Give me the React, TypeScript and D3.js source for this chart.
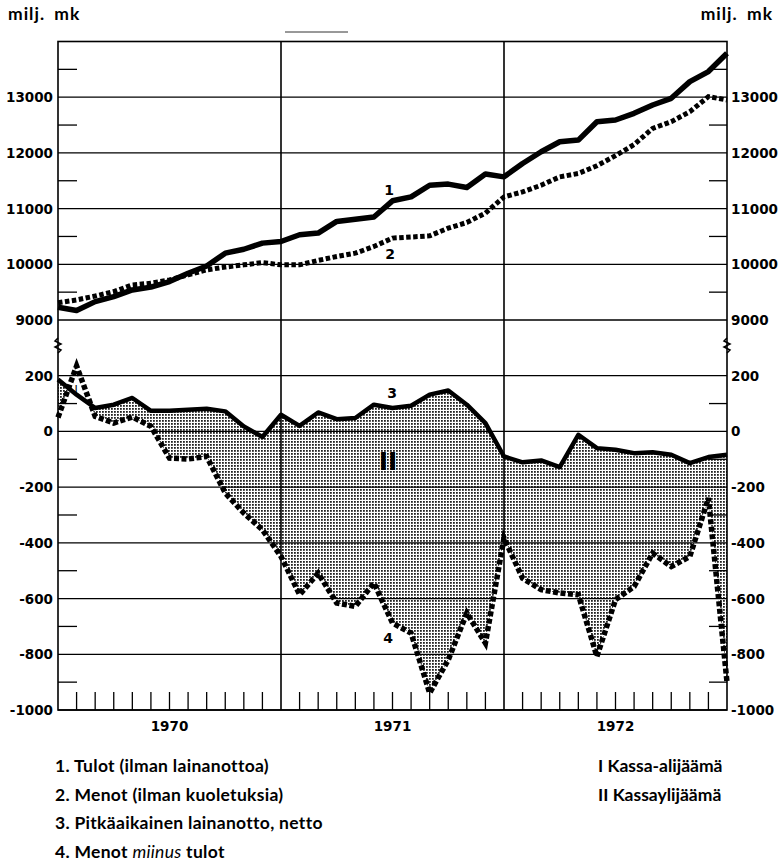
import React from "react";
import * as d3 from "d3";

// month index 0..36 (Jan 1970 .. Dec 1972)
const months = d3.range(0, 37);
const years = ["1970", "1971", "1972"];

// milj. mk, upper panel
const tulot = [9230, 9170, 9330, 9420, 9540, 9590, 9690, 9840, 9970, 10200, 10270, 10380, 10410, 10530, 10560, 10770, 10810, 10850, 11140, 11210, 11420, 11440, 11380, 11620, 11570, 11810, 12020, 12200, 12230, 12560, 12590, 12710, 12860, 12980, 13280, 13460, 13790];
const menot = [9310, 9360, 9430, 9510, 9630, 9660, 9720, 9810, 9900, 9950, 9990, 10030, 9990, 9990, 10070, 10140, 10200, 10320, 10470, 10490, 10510, 10650, 10750, 10920, 11210, 11300, 11420, 11570, 11630, 11770, 11950, 12150, 12440, 12560, 12740, 13010, 12950];

// milj. mk, lower panel
const lainanotto = [186, 132, 84, 96, 120, 74, 74, 78, 81, 72, 18, -20, 60, 20, 68, 44, 48, 96, 84, 92, 132, 147, 96, 30, -90, -111, -104, -128, -12, -60, -66, -78, -75, -84, -114, -92, -84];
const menotMiinusTulot = [50, 235, 54, 30, 52, 18, -96, -99, -90, -221, -293, -353, -449, -586, -509, -616, -628, -544, -688, -724, -939, -820, -652, -760, -383, -527, -568, -580, -586, -808, -604, -557, -437, -485, -449, -239, -900];

const upperMajor = [9000, 10000, 11000, 12000, 13000];
const upperMinor = [9500, 10500, 11500, 12500, 13500];
const lowerMajor = [-1000, -800, -600, -400, -200, 0, 200];
const lowerMinor = [-900, -700, -500, -300, -100, 100];

const legendLeft = ["1. Tulot (ilman lainanottoa)", "2. Menot (ilman kuoletuksia)", "3. Pitkäaikainen lainanotto, netto"];
const legendRight = ["I Kassa-alijäämä", "II Kassaylijäämä"];

const W = 778;
const H = 862;
const L = 58;
const R = 727;
const T = 41.5;
const B = 710;

const x = d3.scaleLinear().domain([0, 36]).range([L, R]);
const yUp = d3.scaleLinear().domain([9000, 14000]).range([320, T]);
const yLo = d3.scaleLinear().domain([-1000, 200]).range([B, 375.7]);

const axisFont = { fontFamily: "DejaVu Sans", fontWeight: 700, fontSize: 13.5 } as const;
const textFont = { fontFamily: "Lato", fontWeight: 700, fontSize: 17.5, letterSpacing: 0.3 } as const;

const fmt = (v: number) => (v < 0 ? "-" + Math.abs(v) : String(v));

const legendY0 = 772;
const legendStep = 28.5;

export default function App() {
  const lineUp = (vals: number[]) =>
    d3.line<number>().x((d) => x(d)).y((d) => yUp(vals[d]))(months) || "";
  const lineLo = (vals: number[]) =>
    d3.line<number>().x((d) => x(d)).y((d) => yLo(vals[d]))(months) || "";

  // area between line 3 and line 4, kept only where 4 lies under 3 (kassaylijäämä)
  const between =
    d3.area<number>().x((d) => x(d)).y0((d) => yLo(menotMiinusTulot[d])).y1((d) => yLo(lainanotto[d]))(months) || "";
  const below =
    d3.area<number>().x((d) => x(d)).y0(B).y1((d) => yLo(lainanotto[d]))(months) || "";

  const brk = (cx: number) => `M${cx},338 L${cx - 3},341 L${cx + 3},344 L${cx - 3},347 L${cx + 3},350 L${cx},353`;

  return (
    <svg width={W} height={H} style={{ position: "absolute", left: 0, top: 0, background: "#fff" }}>
      <defs>
        <pattern id="dots" width={3} height={3} patternUnits="userSpaceOnUse">
          <rect width={3} height={3} fill="#fff" />
          <rect x={0} y={0} width={1.8} height={1.8} fill="#222" />
        </pattern>
        <clipPath id="belowLine">
          <path d={below} />
        </clipPath>
      </defs>

      <rect width={W} height={H} fill="#fff" />

      <path d={between} fill="url(#dots)" clipPath="url(#belowLine)" />

      {/* stray mark at top */}
      <line x1={285} x2={348} y1={32} y2={32} stroke="#333" strokeWidth={1} />

      {/* grid */}
      {upperMajor.map((v) => (
        <line key={"u" + v} x1={L} x2={R} y1={yUp(v)} y2={yUp(v)} stroke="#000" strokeWidth={1.3} />
      ))}
      {lowerMajor.map((v) => (
        <line key={"l" + v} x1={L} x2={R} y1={yLo(v)} y2={yLo(v)} stroke="#000" strokeWidth={1.3} />
      ))}
      {upperMinor.map((v) => (
        <g key={"um" + v}>
          <line x1={L} x2={L + 19} y1={yUp(v)} y2={yUp(v)} stroke="#000" strokeWidth={1.3} />
          <line x1={R - 18} x2={R} y1={yUp(v)} y2={yUp(v)} stroke="#000" strokeWidth={1.3} />
        </g>
      ))}
      {lowerMinor.map((v) => (
        <g key={"lm" + v}>
          <line x1={L} x2={L + 19} y1={yLo(v)} y2={yLo(v)} stroke="#000" strokeWidth={1.3} />
          <line x1={R - 18} x2={R} y1={yLo(v)} y2={yLo(v)} stroke="#000" strokeWidth={1.3} />
        </g>
      ))}
      {months
        .filter((m) => m > 0 && m < 36 && m % 12 !== 0)
        .map((m) => (
          <line key={"t" + m} x1={x(m)} x2={x(m)} y1={B} y2={B - 18} stroke="#000" strokeWidth={1.3} />
        ))}
      {[12, 24].map((m) => (
        <line key={"yr" + m} x1={x(m)} x2={x(m)} y1={T} y2={B} stroke="#000" strokeWidth={1.6} />
      ))}

      {/* frame */}
      <rect x={L} y={T} width={R - L} height={B - T} fill="none" stroke="#000" strokeWidth={1.6} />
      <path d={brk(L)} fill="none" stroke="#000" strokeWidth={1.5} />
      <path d={brk(R)} fill="none" stroke="#000" strokeWidth={1.5} />

      {/* series */}
      <path d={lineUp(tulot)} fill="none" stroke="#000" strokeWidth={5.5} strokeLinejoin="round" />
      <path d={lineUp(menot)} fill="none" stroke="#000" strokeWidth={5} strokeDasharray="4.5 2.5" />
      <path d={lineLo(lainanotto)} fill="none" stroke="#000" strokeWidth={4.5} strokeLinejoin="round" />
      <path d={lineLo(menotMiinusTulot)} fill="none" stroke="#000" strokeWidth={5.5} strokeDasharray="5 2.5" />

      {/* axis labels */}
      {upperMajor.map((v) => (
        <g key={"ul" + v} style={axisFont}>
          <text x={L - 5} y={yUp(v) + 5} textAnchor="end">{fmt(v)}</text>
          <text x={R + 4} y={yUp(v) + 5}>{fmt(v)}</text>
        </g>
      ))}
      {lowerMajor.map((v) => (
        <g key={"ll" + v} style={axisFont}>
          <text x={L - 5} y={yLo(v) + 5} textAnchor="end">{fmt(v)}</text>
          <text x={R + 4} y={yLo(v) + 5}>{fmt(v)}</text>
        </g>
      ))}
      {years.map((yr, i) => (
        <text key={yr} x={x(i * 12 + 6)} y={731} textAnchor="middle" style={axisFont}>{yr}</text>
      ))}

      {/* series labels */}
      <g style={{ ...axisFont, fontSize: 14 }}>
        <text x={389} y={195} textAnchor="middle">1</text>
        <text x={390} y={259} textAnchor="middle">2</text>
        <text x={392} y={398} textAnchor="middle">3</text>
        <text x={388} y={643} textAnchor="middle">4</text>
      </g>
      <text x={76} y={393} textAnchor="middle" style={{ fontFamily: "DejaVu Sans", fontSize: 11 }}>I</text>
      <text x={388} y={470} textAnchor="middle" style={{ ...axisFont, fontSize: 25 }}>II</text>

      {/* units */}
      <text x={8} y={20} style={{ ...textFont, letterSpacing: 1, wordSpacing: 4 }}>milj. mk</text>
      <text x={773} y={20} textAnchor="end" style={{ ...textFont, letterSpacing: 1, wordSpacing: 4 }}>milj. mk</text>

      {/* legend */}
      {legendLeft.map((t, i) => (
        <text key={t} x={55} y={legendY0 + i * legendStep} style={textFont}>{t}</text>
      ))}
      <text x={55} y={legendY0 + 3 * legendStep} style={textFont}>
        4. Menot <tspan fontStyle="italic" fontWeight={400}>miinus</tspan> tulot
      </text>
      {legendRight.map((t, i) => (
        <text key={t} x={598} y={legendY0 + i * legendStep} style={{ ...textFont, letterSpacing: 0 }}>{t}</text>
      ))}
    </svg>
  );
}
